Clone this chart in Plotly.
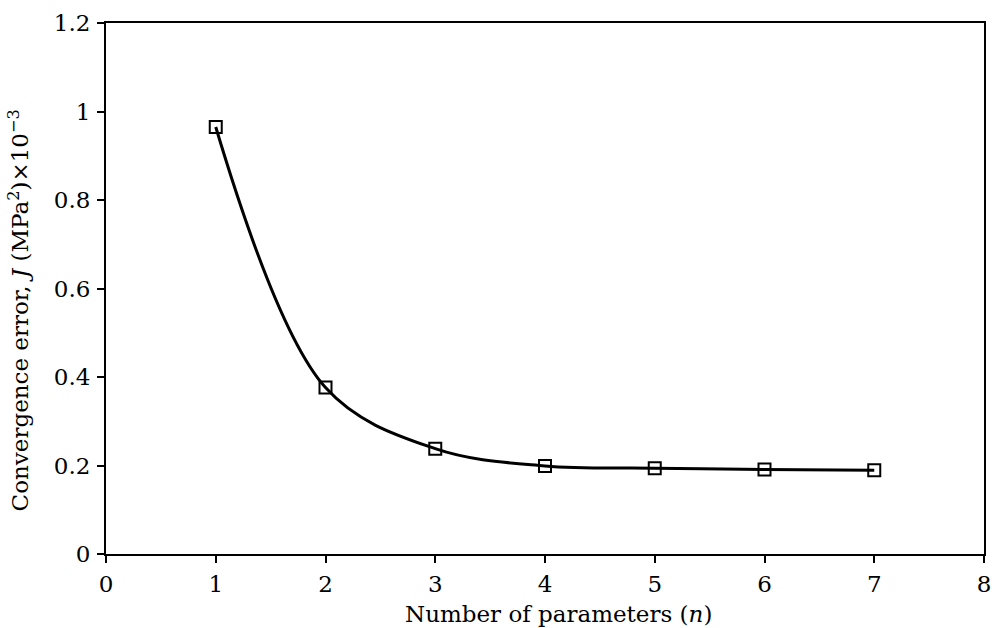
import plotly.graph_objects as go

# Convergence error versus number of fitted parameters
n_params = [1, 2, 3, 4, 5, 6, 7]
conv_error = [0.965, 0.376, 0.238, 0.199, 0.194, 0.191, 0.189]

x_ticks = [0, 1, 2, 3, 4, 5, 6, 7, 8]
y_ticks = [0, 0.2, 0.4, 0.6, 0.8, 1, 1.2]
y_tick_text = ["0", "0.2", "0.4", "0.6", "0.8", "1", "1.2"]

x_label = "Number of parameters (<i>n</i>)"
y_label = "Convergence error, <i>J</i> (MPa<sup>2</sup>)×10<sup>−3</sup>"

FONT = "DejaVu Serif"
SIZE = 23

fig = go.Figure()
fig.add_trace(go.Scatter(
    x=n_params,
    y=conv_error,
    mode="lines+markers",
    line=dict(color="black", width=3, shape="spline", smoothing=1.0),
    marker=dict(symbol="square-open", size=12, color="black",
                line=dict(color="black", width=2)),
    showlegend=False,
))

axis_common = dict(
    showgrid=False,
    zeroline=False,
    showline=True,
    linecolor="black",
    linewidth=2,
    mirror=True,
    ticks="outside",
    ticklen=7,
    tickwidth=1.5,
    tickcolor="black",
    tickfont=dict(family=FONT, size=SIZE, color="black"),
)

fig.update_layout(
    width=1001,
    height=628,
    paper_bgcolor="white",
    plot_bgcolor="white",
    margin=dict(l=106, r=10, t=22, b=74),
    font=dict(family=FONT, color="black"),
    xaxis=dict(range=[0, 8], tickvals=x_ticks, ticklabelstandoff=1,
               **axis_common),
    yaxis=dict(range=[0, 1.2], tickvals=y_ticks, ticktext=y_tick_text,
               ticklabelstandoff=2, **axis_common),
    annotations=[
        dict(text=x_label, xref="paper", yref="paper",
             x=0.5154, y=-0.113, xanchor="center", yanchor="middle",
             showarrow=False, font=dict(family=FONT, size=SIZE, color="black")),
        dict(text=y_label, xref="paper", yref="paper", textangle=-90,
             x=-0.0995, y=0.458, xanchor="center", yanchor="middle",
             showarrow=False, font=dict(family=FONT, size=SIZE, color="black")),
    ],
)

fig.write_html("out.html")
